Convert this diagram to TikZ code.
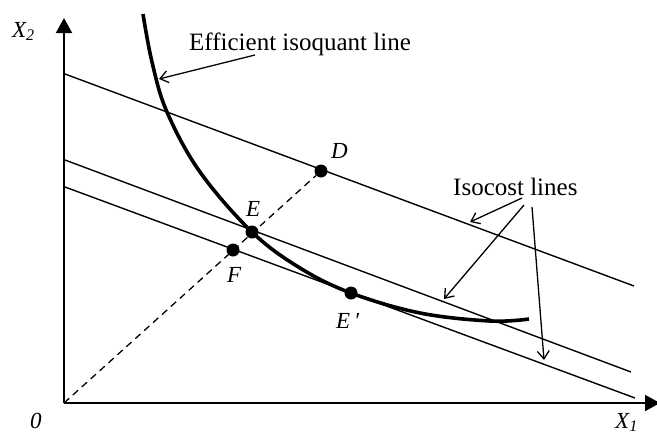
\documentclass[tikz,border=0pt]{standalone}
\usepackage{fontspec}
\setmainfont{Liberation Serif}
\usetikzlibrary{arrows.meta}

\begin{document}
\begin{tikzpicture}[x=1pt, y=-1pt,
  axis/.style={line width=2pt, -{Triangle[length=15pt,width=16pt]}},
  isocost/.style={line width=1.4pt},
  isoquant/.style={line width=3.6pt},
  ray/.style={line width=1.3pt, dash pattern=on 7pt off 5pt},
  dot/.style={circle, fill=black, inner sep=0pt, minimum size=13pt},
  pointer/.style={line width=1.3pt, -{Straight Barb[length=8pt,width=12pt]}},
  lbl/.style={font=\fontsize{23}{27}\selectfont\itshape, inner sep=0pt, anchor=base west},
  note/.style={font=\fontsize{25}{30}\selectfont, inner sep=0pt, anchor=base west},
]
\clip (0,0) rectangle (657,437);

% axes
\coordinate (O) at (64,403);
\coordinate (Ytop) at (64,18);
\coordinate (Xend) at (660,403);
\draw[axis] (O) -- (Ytop);
\draw[axis] (O) -- (Xend);
\node[lbl] (x2) at (12,37) {X\textsubscript{2}};
\node[lbl] (x1) at (615,428) {X\textsubscript{1}};
\node[lbl] (zero) at (30,428) {0};

% isocost lines
\coordinate (A1) at (65,74);  \coordinate (A2) at (634,286);
\coordinate (B1) at (65,160); \coordinate (B2) at (631,372);
\coordinate (C1) at (65,187); \coordinate (C2) at (635,398);
\draw[isocost] (A1) -- (A2);
\draw[isocost] (B1) -- (B2);
\draw[isocost] (C1) -- (C2);

% efficient isoquant
\draw[isoquant] plot[smooth, tension=0.6] coordinates
  {(143,14) (152,62) (167,112) (200,172) (252,232) (300,268) (351,293) (420,313) (490,321) (529,319)};

% points
\node[dot] (D) at (321,171) {};
\node[dot] (E) at (252,232) {};
\node[dot] (F) at (233,250) {};
\node[dot] (Ep) at (351,293) {};
\draw[ray] (O) -- (D);
\node[lbl] at (331,158) {D};
\node[lbl] at (246,216) {E};
\node[lbl] at (227,282) {F};
\node[lbl] at (336,328) {E\,′};

% labels
\node[note] (effnote) at (189,50) {Efficient isoquant line};
\coordinate (effTail) at (255,55);
\coordinate (effTip) at (159,79);
\draw[pointer] (effTail) -- (effTip);

\node[note] (isonote) at (453,195) {Isocost lines};
\coordinate (t1) at (522,198); \coordinate (h1) at (470,222);
\coordinate (t2) at (524,205); \coordinate (h2) at (444,299);
\coordinate (t3) at (532,207); \coordinate (h3) at (544,360);
\draw[pointer] (t1) -- (h1);
\draw[pointer] (t2) -- (h2);
\draw[pointer] (t3) -- (h3);
\end{tikzpicture}
\end{document}
